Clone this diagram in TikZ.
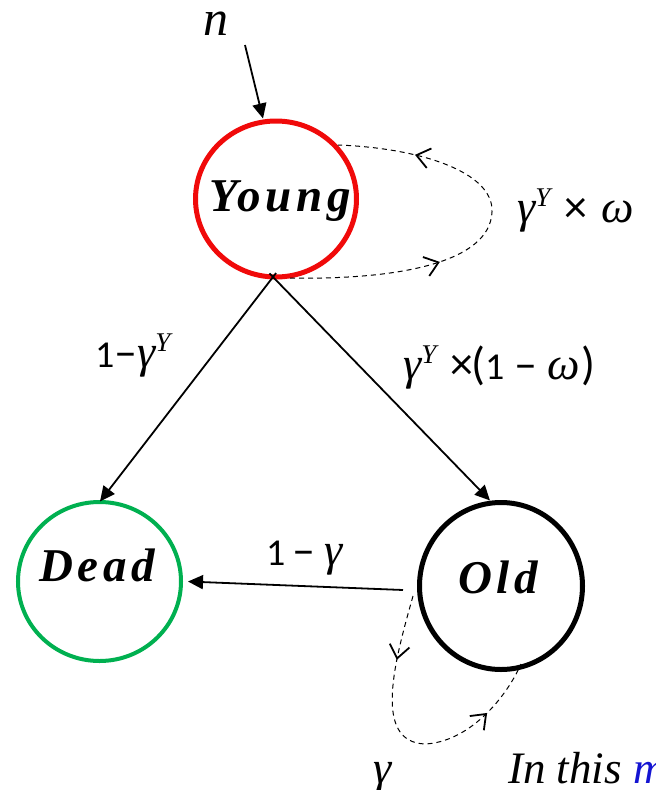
\documentclass[tikz,border=0pt]{standalone}
\usepackage{fontspec}
\setmainfont{Liberation Serif}
\newfontfamily\lab{Carlito}
\newfontfamily\statefont[LetterSpace=10]{Liberation Serif}
\usetikzlibrary{arrows.meta,shapes.geometric,decorations.markings}
\definecolor{ygred}{RGB}{240,10,10}
\definecolor{dgreen}{RGB}{0,176,80}
\definecolor{tblue}{RGB}{20,20,210}
\newcommand\gi[1]{{\rmfamily\itshape\fontsize{46}{48}\selectfont #1}}
\newcommand\sy[1]{\raisebox{16pt}{\rmfamily\itshape\fontsize{27}{27}\selectfont #1}}
\newcommand\op[1]{{\fontsize{46}{48}\selectfont #1}}
\begin{document}
\begin{tikzpicture}[x=1pt,y=-1pt,
  state/.style={ellipse, inner sep=0},
  stxt/.style={anchor=base, inner sep=0, font=\statefont\bfseries\itshape\fontsize{47}{50}\selectfont},
  arr/.style={line width=1.8, -{Triangle[length=15,width=14]}},
  dloop/.style={line width=1, dash pattern=on 5 off 4},
  lbl/.style={anchor=base west, inner sep=0, font=\lab\fontsize{38}{44}\selectfont},
  barb/.style={line width=1.8}]
\useasboundingbox (0,0) rectangle (656,790);

% states
\node[state, draw=ygred, line width=5, minimum width=161, minimum height=156] (Y) at (276,199) {};
\node[state, draw=dgreen, line width=4, minimum width=163, minimum height=159] (D) at (99.5,581.5) {};
\node[state, draw=black, line width=5, minimum width=163, minimum height=167] (O) at (501,586) {};
\node[stxt] (Yt) at (280,211) {Young};
\node[stxt] (Dt) at (97,581) {Dead};
\node[stxt] (Ot) at (498,593) {Old};

% entry
\node[anchor=base west, inner sep=0, font=\fontsize{50}{50}\selectfont\itshape] (n) at (203,35) {n};
\coordinate (nstart) at (245,45);
\draw[arr] (nstart) -- ([xshift=-13,yshift=0]Y.north);

% transitions
\coordinate (ys) at ([xshift=-3,yshift=2.5]Y.south);
\draw[arr, shorten <=-5pt] (ys) -- ([xshift=0.5,yshift=-1.5]D.north);
\draw[arr, shorten <=-5pt] (ys) -- ([xshift=-11,yshift=-0.5]O.north);
\draw[arr] ([xshift=-14,yshift=-4]O.west) -- ([xshift=5]D.east);

% Young self loop
\coordinate (yl1) at (290,278);
\coordinate (yl2) at (338,145);
\draw[dloop, postaction={decorate, decoration={markings,
    mark=at position 0.37 with {\arrow[barb]{Straight Barb[length=13,width=20]}},
    mark=at position 0.81 with {\arrow[barb]{Straight Barb[length=13,width=20]}}}}]
  (yl1) .. controls (400,280) and (490,262) .. (492,212)
        .. controls (494,172) and (420,148) .. (yl2);

% Old self loop
\coordinate (ol1) at (413,596);
\coordinate (ol2) at (521,664);
\draw[dloop, postaction={decorate, decoration={markings,
    mark=at position 0.22 with {\arrow[barb]{Straight Barb[length=13,width=20]}},
    mark=at position 0.80 with {\arrow[barb]{Straight Barb[length=13,width=20]}}}}]
  (ol1) .. controls (395,660) and (372,742) .. (425,744)
        .. controls (468,742) and (505,700) .. (ol2);

% labels
\node[lbl] (lyw) at (517,222) {\gi{γ}\sy{Y}\hspace{14pt}\op{×}\hspace{14pt}\gi{ω}};
\node[lbl] (l1) at (95,367) {1\op{–}\gi{γ}\sy{Y}};
\node[lbl] (l2) at (403,379) {\gi{γ}\sy{Y}\hspace{14pt}\op{×}\hspace{-2pt}\op{(}1\hspace{10pt}\op{–}\hspace{10pt}\gi{ω}\hspace{2pt}\op{)}};
\node[lbl] (l3) at (266,565) {1\hspace{7pt}\op{–}\hspace{9pt}\gi{γ}};
\node[anchor=base west, inner sep=0] (lg) at (373,783) {\gi{γ}};

% bottom text (cut off at the edge)
\node[anchor=base west, inner sep=0, font=\fontsize{45}{50}\selectfont\itshape] (txt) at (508,783)
  {In this \textcolor{tblue}{m}};
\end{tikzpicture}
\end{document}
